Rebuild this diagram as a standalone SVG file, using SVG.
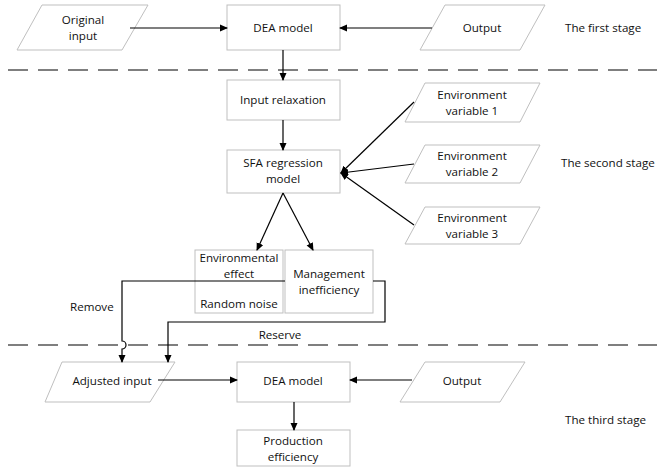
<svg xmlns="http://www.w3.org/2000/svg" width="657" height="473" viewBox="0 0 657 473">
<defs>
<marker id="ah" markerWidth="8" markerHeight="8" refX="7" refY="4" orient="auto" markerUnits="userSpaceOnUse">
<path d="M0,0.5 L8,4 L0,7.5 Z" fill="#000"/>
</marker>
</defs>
<style>
.box{fill:#fff;stroke:#bfbfbf;stroke-width:1}
.t{font-family:"Open Sans","Noto Sans",sans-serif;font-size:11.6px;fill:#111;text-anchor:middle}
.l{font-family:"Open Sans","Noto Sans",sans-serif;font-size:11.6px;fill:#111}
.c{fill:none;stroke:#000;stroke-width:1.2}
.dash{fill:none;stroke:#555;stroke-width:1.5;stroke-dasharray:20 10}
</style>
<rect width="657" height="473" fill="#fff"/>
<g id="dividers">
<line class="dash" x1="8" y1="70" x2="657" y2="70"/>
<line class="dash" x1="8" y1="345" x2="657" y2="345"/>
</g>
<g id="original-input"><polygon class="box" points="42,5 148,5 122,50 17,50"/><text class="t" x="83" y="24">Original</text><text class="t" x="83" y="40">input</text></g>
<g id="dea-1"><rect class="box" x="227" y="5" width="113" height="45"/><text class="t" x="283" y="32">DEA model</text></g>
<g id="output-1"><polygon class="box" points="445,5 545,5 520,50 420,50"/><text class="t" x="482" y="32">Output</text></g>
<g id="input-relaxation"><rect class="box" x="227" y="80" width="113" height="40"/><text class="t" x="283" y="104">Input relaxation</text></g>
<g id="sfa"><rect class="box" x="227" y="150" width="113" height="43"/><text class="t" x="283" y="167">SFA regression</text><text class="t" x="283" y="183">model</text></g>
<g id="env-1"><polygon class="box" points="425,83 540,83 520,122 405,122"/><text class="t" x="472" y="99">Environment</text><text class="t" x="472" y="115">variable 1</text></g>
<g id="env-2"><polygon class="box" points="425,145 540,145 520,183 405,183"/><text class="t" x="472" y="160">Environment</text><text class="t" x="472" y="176">variable 2</text></g>
<g id="env-3"><polygon class="box" points="425,207 540,207 520,244 405,244"/><text class="t" x="472" y="222">Environment</text><text class="t" x="472" y="238">variable 3</text></g>
<g id="env-effect"><rect class="box" x="195" y="250" width="88" height="63"/><text class="t" x="239" y="262">Environmental</text><text class="t" x="239" y="278">effect</text><text class="t" x="239" y="308">Random noise</text></g>
<g id="mgmt"><rect class="box" x="285" y="250" width="88" height="63"/><text class="t" x="329" y="278">Management</text><text class="t" x="329" y="294">inefficiency</text></g>
<g id="adjusted-input"><polygon class="box" points="62,362 175,362 150,402 45,402"/><text class="t" x="112" y="385">Adjusted input</text></g>
<g id="dea-2"><rect class="box" x="237" y="362" width="113" height="40"/><text class="t" x="293" y="385">DEA model</text></g>
<g id="output-2"><polygon class="box" points="425,362 525,362 500,402 400,402"/><text class="t" x="462" y="385">Output</text></g>
<g id="production"><rect class="box" x="237" y="430" width="113" height="36"/><text class="t" x="293" y="445">Production</text><text class="t" x="293" y="461">efficiency</text></g>
<g id="labels">
<text class="l" x="565" y="32">The first stage</text>
<text class="l" x="561" y="167">The second stage</text>
<text class="l" x="565" y="424">The third stage</text>
<text class="l" x="70" y="311">Remove</text>
<text class="t" x="280" y="339">Reserve</text>
</g>
<g id="connectors">
<line class="c" x1="130" y1="28" x2="227" y2="28" marker-end="url(#ah)"/>
<line class="c" x1="432" y1="28" x2="340" y2="28" marker-end="url(#ah)"/>
<line class="c" x1="283" y1="50" x2="283" y2="80" marker-end="url(#ah)"/>
<line class="c" x1="283" y1="120" x2="283" y2="150" marker-end="url(#ah)"/>
<line class="c" x1="414" y1="102" x2="341" y2="173" marker-end="url(#ah)"/>
<line class="c" x1="414" y1="164" x2="341" y2="173" marker-end="url(#ah)"/>
<line class="c" x1="414" y1="225" x2="341" y2="173" marker-end="url(#ah)"/>
<line class="c" x1="283" y1="193" x2="257" y2="250" marker-end="url(#ah)"/>
<line class="c" x1="283" y1="193" x2="313" y2="250" marker-end="url(#ah)"/>
<path class="c" d="M285,281 H122 V341 a4,4 0 0 1 0,8 V362" marker-end="url(#ah)"/>
<path class="c" d="M373,281 H385 V322 H168 V362" marker-end="url(#ah)"/>
<line class="c" x1="158" y1="380" x2="237" y2="380" marker-end="url(#ah)"/>
<line class="c" x1="412" y1="380" x2="350" y2="380" marker-end="url(#ah)"/>
<line class="c" x1="294" y1="402" x2="294" y2="430" marker-end="url(#ah)"/>
</g>
</svg>
